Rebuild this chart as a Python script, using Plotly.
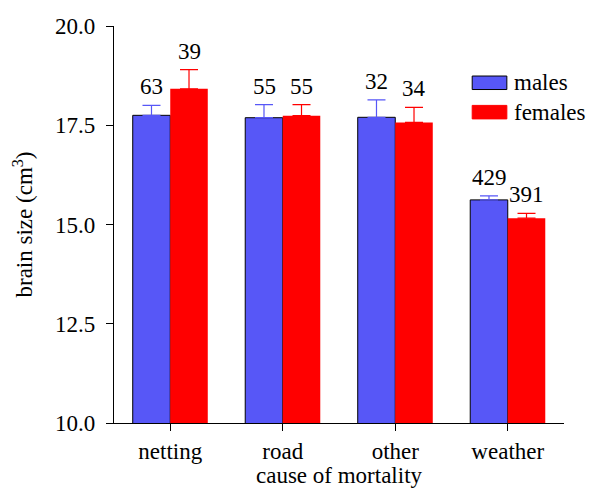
import plotly.graph_objects as go

# Brain size by cause of mortality, split by sex
categories = ["netting", "road", "other", "weather"]
male_mean = [17.75, 17.69, 17.70, 15.62]
male_se = [0.25, 0.33, 0.44, 0.10]
male_n = [63, 55, 32, 429]
female_mean = [18.42, 17.74, 17.57, 15.16]
female_se = [0.48, 0.28, 0.38, 0.12]
female_n = [39, 55, 34, 391]
series_names = ["males", "females"]
y_ticks = [10, 12.5, 15, 17.5, 20]

BLUE = "#5757f7"
RED = "#ff0000"
FONT = "Liberation Serif"
FS = 23

fig = go.Figure()
fig.add_trace(go.Bar(
    x=categories, y=male_mean, name=series_names[0],
    marker=dict(color=BLUE, line=dict(color="black", width=1)),
    error_y=dict(type="data", symmetric=False, array=male_se,
                 arrayminus=[0] * len(male_se), color=BLUE, thickness=1.2, width=9),
    showlegend=False,
))
fig.add_trace(go.Bar(
    x=categories, y=female_mean, name=series_names[1],
    marker=dict(color=RED, line=dict(color=RED, width=0)),
    error_y=dict(type="data", symmetric=False, array=female_se,
                 arrayminus=[0] * len(female_se), color=RED, thickness=1.2, width=9),
    showlegend=False,
))

# sample sizes above each error bar
for i, c in enumerate(categories):
    for off, mean, se, n in ((-1, male_mean, male_se, male_n), (1, female_mean, female_se, female_n)):
        fig.add_annotation(
            x=i + off * 0.1667, y=mean[i] + se[i], xref="x", yref="y",
            text=str(n[i]), showarrow=False, yanchor="bottom", yshift=4,
            font=dict(family=FONT, size=FS, color="black"),
        )

# legend drawn as swatches with labels
legend_rows = [(series_names[0], BLUE, "black", 0.857), (series_names[1], RED, RED, 0.783)]
for name, fill, edge, yc in legend_rows:
    fig.add_shape(type="rect", xref="paper", yref="paper",
                  x0=0.796, x1=0.873, y0=yc - 0.017, y1=yc + 0.017,
                  fillcolor=fill, line=dict(color=edge, width=1))
    fig.add_annotation(x=0.885, y=yc, xref="paper", yref="paper", text=name,
                       showarrow=False, xanchor="left", yanchor="middle",
                       font=dict(family=FONT, size=FS, color="black"))

fig.update_layout(
    width=592, height=488,
    margin=dict(l=114, r=28, t=26, b=65),
    paper_bgcolor="white", plot_bgcolor="white",
    barmode="group", bargap=0.333, bargroupgap=0,
    font=dict(family=FONT, size=FS, color="black"),
    xaxis=dict(
        type="category", range=[-0.5, 3.5], automargin=False,
        showline=True, linecolor="black", linewidth=1.2,
        ticks="outside", ticklen=7, tickcolor="black", tickwidth=1.2,
        showgrid=False, zeroline=False,
        title=dict(text="cause of mortality", standoff=0, font=dict(family=FONT, size=FS)),
        tickfont=dict(family=FONT, size=FS),
    ),
    yaxis=dict(
        range=[10, 20], tickvals=y_ticks, tickformat=".1f", automargin=False,
        showline=True, linecolor="black", linewidth=1.2,
        ticks="outside", ticklen=7, tickcolor="black", tickwidth=1.2,
        ticklabelstandoff=6,
        showgrid=False, zeroline=False,
        title=dict(text="brain size (cm<sup>3</sup>)", standoff=15, font=dict(family=FONT, size=FS)),
        tickfont=dict(family=FONT, size=FS),
    ),
)

fig.write_html("out.html")
